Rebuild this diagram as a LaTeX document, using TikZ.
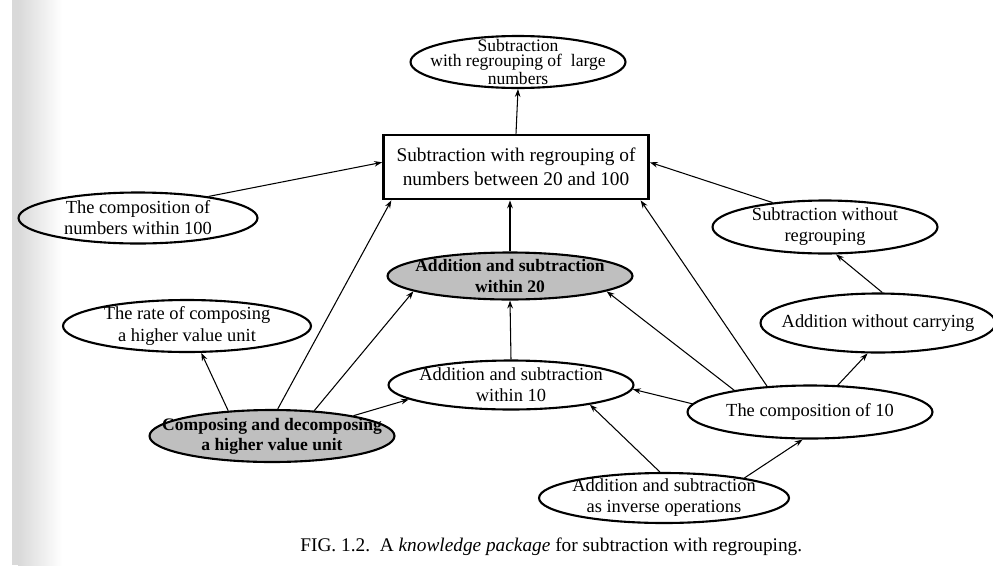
\documentclass[tikz,border=0pt]{standalone}
\usepackage{fontspec}
\setmainfont{Liberation Serif}
\usetikzlibrary{shapes.geometric,arrows.meta}
\begin{document}
\begin{tikzpicture}[x=0.02cm,y=-0.02cm,
  bubble/.style={ellipse,draw,line width=1.2pt,inner sep=0pt},
  shaded/.style={bubble,fill=gray!50},
  txt/.style={align=center,inner sep=0pt,font=\fontsize{10.5}{12}\selectfont},
  boldtxt/.style={txt,font=\fontsize{10}{11.5}\selectfont\bfseries},
  mainbox/.style={rectangle,draw,line width=1.6pt,inner sep=0pt,align=center,
    font=\fontsize{11}{13.5}\selectfont},
  arr/.style={line width=0.6pt,-{Stealth[length=4.5pt,width=3.2pt]}}]
\useasboundingbox (0,0) rectangle (993,565);
\clip (0,0) rectangle (993,565);
% stippled page edge
\fill[gray!30] (12,0) rectangle (18,565);
\shade[left color=gray!30,right color=white] (18,0) rectangle (62,565);

% concepts
\node[bubble,minimum width=4.3cm,minimum height=1.04cm,
  label={[txt,font=\fontsize{10}{8.5}\selectfont]center:{Subtraction\\ with regrouping of\ \ large\\ numbers}}]
  (top) at (518,62) {};
\node[mainbox,minimum width=5.3cm,minimum height=1.28cm] (box) at (516,167)
  {Subtraction with regrouping of\\ numbers between 20 and 100};
\node[bubble,minimum width=4.78cm,minimum height=1.02cm,
  label={[txt]center:{The composition of\\ numbers within 100}}] (c100) at (138,218) {};
\node[bubble,minimum width=4.5cm,minimum height=1.06cm,
  label={[txt]center:{Subtraction without\\ regrouping}}] (swr) at (825,227) {};
\node[shaded,minimum width=4.9cm,minimum height=0.94cm,
  label={[boldtxt]center:{Addition and subtraction\\ within 20}}] (w20) at (510,276) {};
\node[bubble,minimum width=4.96cm,minimum height=1.04cm,
  label={[txt]center:{The rate of composing\\ a higher value unit}}] (rate) at (187,326) {};
\node[bubble,minimum width=4.7cm,minimum height=1.18cm,
  label={[txt]center:{Addition without carrying}}] (awc) at (878,323) {};
\node[bubble,minimum width=4.9cm,minimum height=0.98cm,
  label={[txt]center:{Addition and subtraction\\ within 10}}] (w10) at (511,385) {};
\node[bubble,minimum width=4.9cm,minimum height=1.06cm,
  label={[txt]center:{The composition of 10}}] (c10) at (810,412) {};
\node[shaded,minimum width=4.9cm,minimum height=1.04cm,
  label={[boldtxt]center:{Composing and decomposing\\ a higher value unit}}] (cdh) at (272,436) {};
\node[bubble,minimum width=5.0cm,minimum height=1.0cm,
  label={[txt]center:{Addition and subtraction\\ as inverse operations}}] (inv) at (664,498) {};

% prerequisite links
\draw[arr] (box.north) -- (top.south);
\draw[arr] (c100.17) -- (box.178);
\draw[arr] (swr.155) -- (box.2);
\draw[arr] (w20.north) -- (w20.north |- box.south);
\draw[arr] (cdh.78) -- (box.195);
\draw[arr] (cdh.31) -- (w20.189);
\draw[arr] (cdh.14) -- (w10.188);
\draw[arr] (cdh.150) -- (rate.-62);
\draw[arr] (w10.north) -- (w20.south);
\draw[arr] (c10.176) -- (w10.-2);
\draw[arr] (c10.164) -- (w20.-9);
\draw[arr] (c10.149) -- (box.-15);
\draw[arr] (c10.44) -- (awc.-109);
\draw[arr] (awc.82) -- (swr.-68);
\draw[arr] (inv.99) -- (w10.-14);
\draw[arr] (inv.14) -- (c10.-105);

% caption
\node[anchor=base west,inner sep=0pt,font=\fontsize{11}{13}\selectfont] (cap) at (300,551)
  {FIG. 1.2.\ \ A \textit{knowledge package} for subtraction with regrouping.};
\end{tikzpicture}
\end{document}
